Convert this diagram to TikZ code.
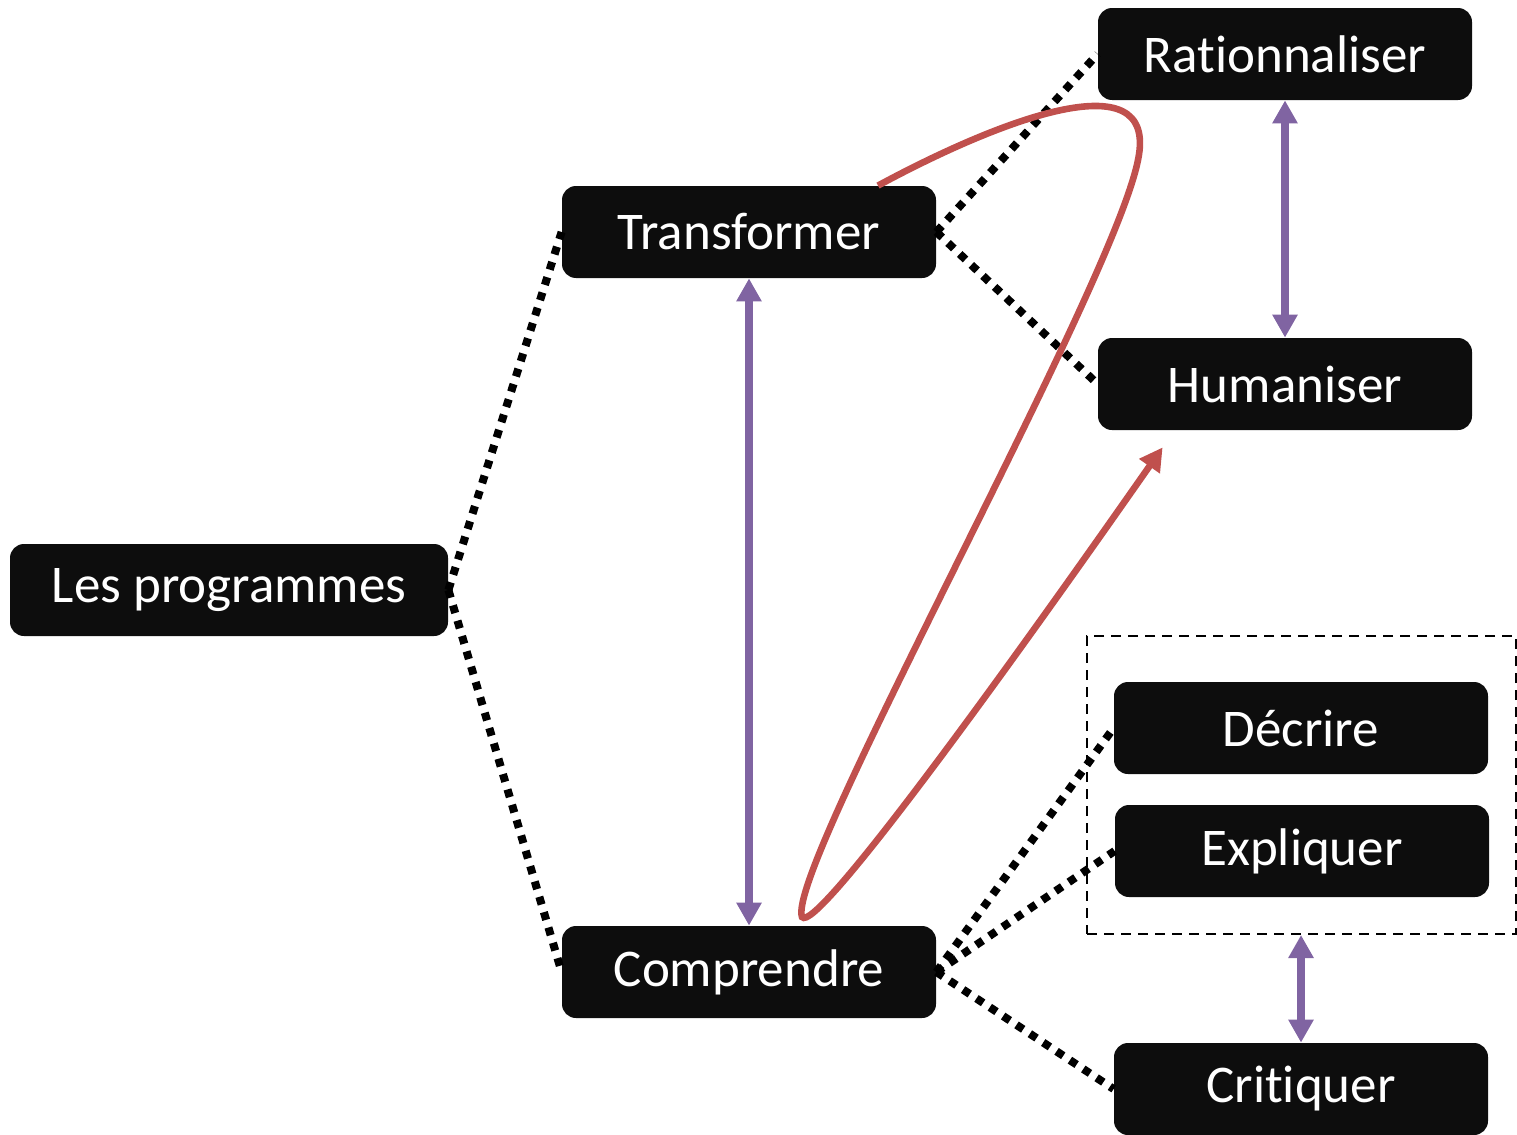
\documentclass[tikz,border=0pt]{standalone}
\usepackage{fontspec}
\setmainfont{Carlito}[Ligatures={NoCommon,NoContextual}]
\usetikzlibrary{arrows.meta,calc}
\definecolor{boxfill}{HTML}{0D0D0D}
\definecolor{purp}{HTML}{8064A2}
\definecolor{redc}{HTML}{C0504D}
\begin{document}
\begin{tikzpicture}[x=0.5pt,y=-0.5pt,
  box/.style={fill=boxfill, text=white, rounded corners=7pt, minimum width=187pt, minimum height=46pt, inner sep=0pt, font=\fontsize{26.5}{30}\selectfont},
  dots/.style={line width=4pt, dash pattern=on 4pt off 4pt, line cap=butt},
  parrow/.style={purp, line width=3.8pt, {Triangle[length=11.5pt,width=12pt]}-{Triangle[length=11.5pt,width=12pt]}},
  rarrow/.style={redc, line width=3.3pt, -{Triangle[length=11.5pt,width=12pt]}},
  grpbox/.style={draw, line width=1pt, dash pattern=on 5pt off 3.5pt, minimum width=214.5pt, minimum height=149pt, inner sep=0pt}
]
\useasboundingbox (0,0) rectangle (1517,1135);
\node[grpbox] (grp) at (1301.5,785) {};
\node[box, minimum width=219pt] (lp) at (229,590) {Les programmes};
\node[box] (tr) at (749,232) {Transformer};
\node[box] (co) at (749,972) {Comprendre};
\node[box] (ra) at (1285,54) {Rationnaliser};
\node[box] (hu) at (1285,384) {Humaniser};
\node[box] (de) at (1301,728) {Décrire};
\node[box] (ex) at (1302,851) {Expliquer};
\node[box] (cr) at (1301,1089) {Critiquer};

\draw[dots] (lp.east) -- (tr.west);
\draw[dots] (lp.east) -- (co.west);
\draw[dots] (tr.east) -- (ra.west);
\draw[dots] (tr.east) -- (hu.west);
\draw[dots] (co.east) -- (de.west);
\draw[dots] (co.east) -- (ex.west);
\draw[dots] (co.east) -- (cr.west);

\draw[parrow] (tr.south) -- (co.north);
\draw[parrow] (ra.south) -- (hu.south |- hu.north);
\draw[parrow] (cr.north |- grp.south) -- (cr.north);

\coordinate (rs) at ($(tr.north)+(129,0)$);
\coordinate (re) at ($(hu.south west)+(65,17)$);
\draw[rarrow] (rs) .. controls (990,125) and (1160,55) .. (1138,160)
  .. controls (1112,290) and (785,870) .. (802,917)
  .. controls (815,935) and (1000,680) .. (re);
\end{tikzpicture}
\end{document}
